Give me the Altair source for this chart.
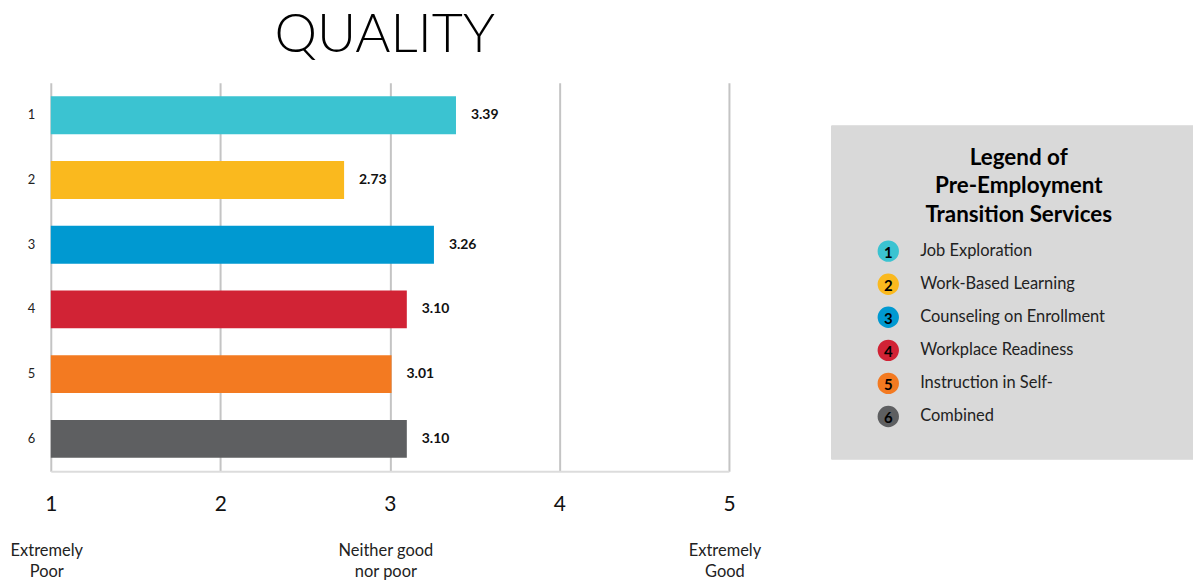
import altair as alt
import pandas as pd

ranks = [1, 2, 3, 4, 5, 6]
values = [3.39, 2.73, 3.26, 3.10, 3.01, 3.10]
services = ["Job Exploration", "Work-Based Learning", "Counseling on Enrollment",
            "Workplace Readiness", "Instruction in Self-", "Combined"]
colors = ["#3BC3D1", "#FAB91E", "#0099D1", "#D12335", "#F37A21", "#5E5F61"]
anchor_ticks = [1, 3, 5]
anchor_labels = [["Extremely", "Poor"], ["Neither good", "nor poor"], ["Extremely", "Good"]]
legend_title = ["Legend of", "Pre-Employment", "Transition Services"]

df = pd.DataFrame({"rank": ranks, "value": values, "service": services, "color": colors})
anchors = pd.DataFrame({"x": anchor_ticks, "label": anchor_labels})

FONT = "Lato"

yenc = alt.Y("rank:O", title=None,
             scale=alt.Scale(paddingInner=0.415, paddingOuter=0.2075),
             axis=alt.Axis(domain=False, ticks=False, grid=False, labelFontSize=13,
                           labelFont=FONT, labelColor="#222", labelPadding=16))
xscale = alt.Scale(domain=[1, 5], nice=False, zero=False)

bars = alt.Chart(df).mark_bar().encode(
    x=alt.X("value:Q", scale=xscale, title=None,
            axis=alt.Axis(values=[1, 2, 3, 4, 5], format="d", grid=True, gridColor="#c4c4c4",
                          gridWidth=2, domain=True, domainColor="#dcdcdc", domainWidth=2,
                          ticks=False, labelFontSize=21, labelFont=FONT, labelColor="#111",
                          labelPadding=22, labelFlush=False)),
    x2=alt.datum(1),
    y=yenc,
    color=alt.Color("color:N", scale=None),
)

labels = alt.Chart(df).mark_text(align="left", baseline="middle", dx=15, fontWeight="bold",
                                 fontSize=14, font=FONT, color="#111").encode(
    x=alt.X("value:Q", scale=xscale),
    y=alt.Y("rank:O"),
    text=alt.Text("value:Q", format=".2f"),
)

anchor_text = alt.Chart(anchors).mark_text(align="center", baseline="middle", fontSize=16.5,
                                           font=FONT, color="#222", lineHeight=21, dx=-4).encode(
    x=alt.X("x:Q", scale=xscale),
    y=alt.value(470),
    text="label",
)

main = alt.layer(bars, labels, anchor_text).properties(width=681, height=390)

box = alt.Chart(df).mark_rect(color="#d9d9d9").encode(
    x=alt.value(0), x2=alt.value(363), y=alt.value(43), y2=alt.value(378))

ltitle = alt.Chart(pd.DataFrame({"t": [legend_title]})).mark_text(
    align="center", baseline="top", fontSize=22.5, fontWeight="bold", font=FONT,
    color="#000", lineHeight=29).encode(x=alt.value(188), y=alt.value(64), text="t")

lscale = alt.Scale(type="point", range=[169, 335], padding=0)
circles = alt.Chart(df).mark_circle(size=460, opacity=1).encode(
    x=alt.value(57),
    y=alt.Y("rank:O", scale=lscale, axis=None),
    color=alt.Color("color:N", scale=None),
)
nums = alt.Chart(df).mark_text(fontSize=15, fontWeight="bold", font=FONT, color="#000",
                               dy=2).encode(
    x=alt.value(57), y=alt.Y("rank:O", scale=lscale, axis=None), text="rank:N")
ltext = alt.Chart(df).mark_text(align="left", fontSize=16.5, font=FONT, color="#222").encode(
    x=alt.value(89), y=alt.Y("rank:O", scale=lscale, axis=None), text="service:N")

legend = alt.layer(box, ltitle, circles, nums, ltext).properties(width=363, height=390)

chart = alt.hconcat(main, legend, spacing=70).properties(
    title=alt.TitleParams("QUALITY", fontSize=54, font=FONT, fontWeight=300, color="#000",
                          anchor="start", dx=265, offset=20),
    padding={"left": 10, "top": 8, "right": 0, "bottom": 0},
).configure_view(strokeWidth=0).configure_concat(spacing=70)

chart.save("out.html", embed_options={"renderer": "svg", "actions": False})
